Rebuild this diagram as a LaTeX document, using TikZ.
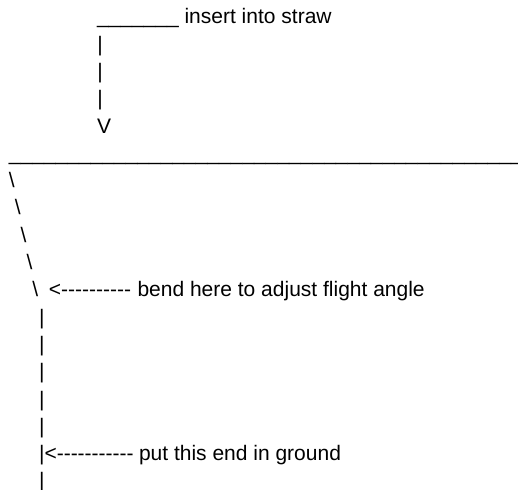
\documentclass[tikz,border=0pt]{standalone}
\usepackage{fontspec}
\setmainfont{Liberation Sans}
\begin{document}
\begin{tikzpicture}[x=1pt,y=-1pt,
  txt/.style={anchor=base west,inner sep=0pt,outer sep=0pt,
    font=\fontsize{21}{21}\selectfont}]
\useasboundingbox (0,0) rectangle (518,489);
% straw end: label and downward pointer
\node[txt] (straw) at (97,23.8) {\_\_\_\_\_\_\_ insert into straw};
\node[txt] (p1) at (97.3,51.1) {|};
\node[txt] (p2) at (97.3,78.4) {|};
\node[txt] (p3) at (97.3,105.7) {|};
\node[txt] (tip) at (97,133.0) {V};
% the long straight part
\node[txt] (top) at (9,160.3) {\_\_\_\_\_\_\_\_\_\_\_\_\_\_\_\_\_\_\_\_\_\_\_\_\_\_\_\_\_\_\_\_\_\_\_\_\_\_\_\_\_\_\_\_};
% slanted part
\node[txt] (s1) at (9,187.6) {\textbackslash};
\node[txt] (s2) at (14.8,214.9) {\textbackslash};
\node[txt] (s3) at (20.7,242.2) {\textbackslash};
\node[txt] (s4) at (26.5,269.5) {\textbackslash};
\node[txt] (s5) at (32.4,296.8) {\textbackslash};
\node[txt] (bendarrow) at (48.8,296.8) {<{-}{-}{-}{-}{-}{-}{-}{-}{-}{-}};
\node[txt] (bend) at (137.5,296.8) {bend here to adjust flight angle};
% vertical leg
\node[txt] (v1) at (39,324.1) {|};
\node[txt] (v2) at (39,351.4) {|};
\node[txt] (v3) at (39,378.7) {|};
\node[txt] (v4) at (39,406.0) {|};
\node[txt] (v5) at (39,433.3) {|};
\node[txt] (v6) at (39,460.6) {|};
\node[txt] (groundarrow) at (44.5,460.6) {<{-}{-}{-}{-}{-}{-}{-}{-}{-}{-}{-}};
\node[txt] (ground) at (139,460.6) {put this end in ground};
\node[txt] (v7) at (39,487.9) {|};
\end{tikzpicture}
\end{document}
